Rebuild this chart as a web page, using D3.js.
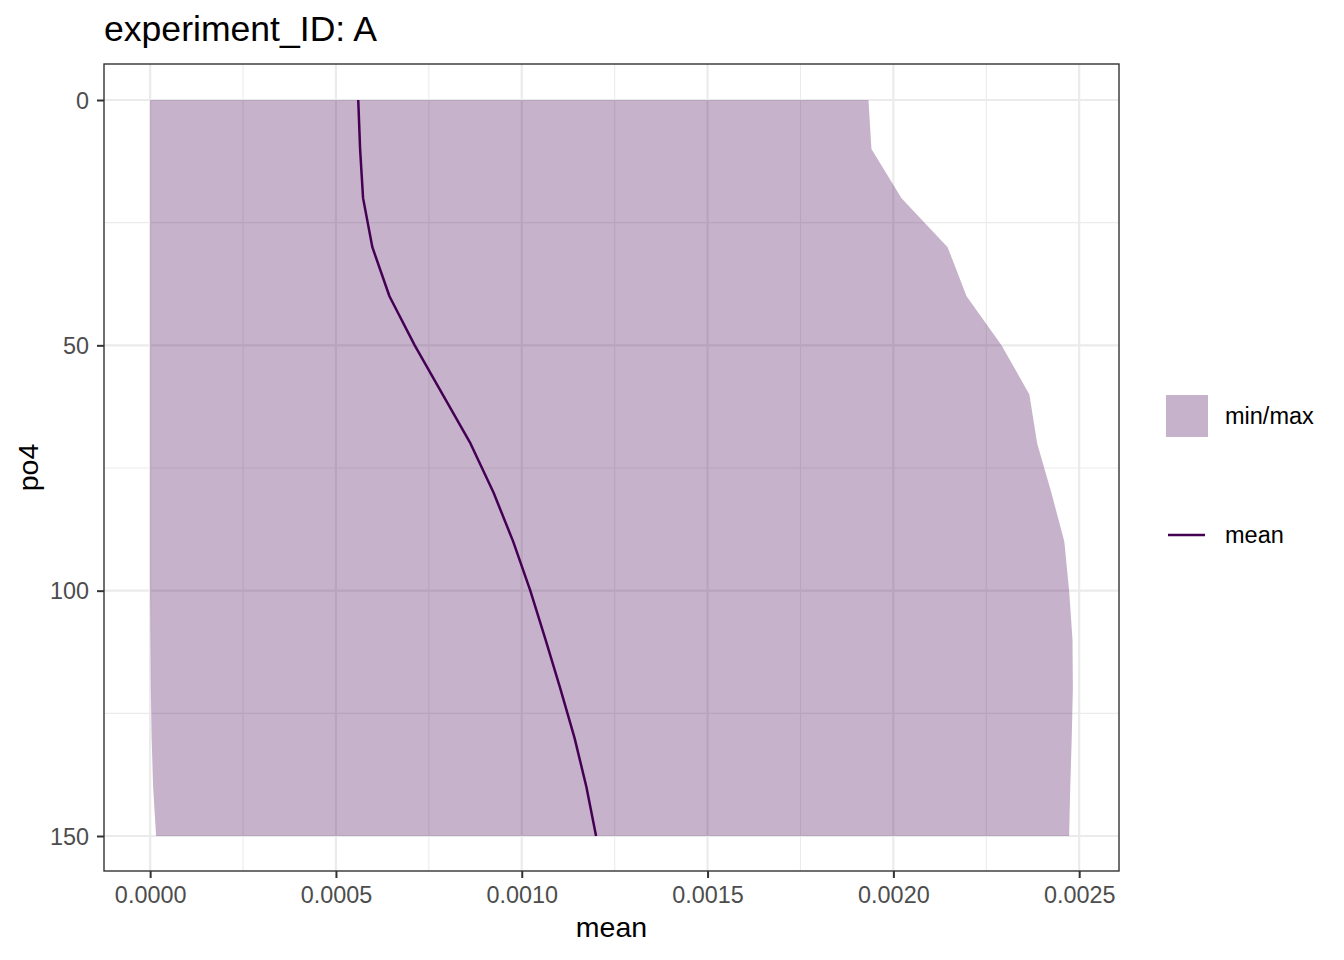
<!DOCTYPE html>
<html>
<head>
<meta charset="utf-8">
<script src="https://cdn.jsdelivr.net/npm/d3@7"></script>
<style>
  html, body { margin: 0; padding: 0; background: #fff; }
  svg text { font-family: "Liberation Sans", Arial, sans-serif; }
</style>
</head>
<body>
<svg id="chart" width="1344" height="960"></svg>
<script>
// ---- data ----
const po4 = [0, 10, 20, 30, 40, 50, 60, 70, 80, 90, 100, 110, 120, 130, 140, 150];
const meanVals = [0.000560, 0.000565, 0.000573, 0.000598, 0.000644, 0.000712, 0.000787, 0.000862,
                  0.000924, 0.000977, 0.001023, 0.001064, 0.001104, 0.001142, 0.001174, 0.001200];
const minVals = [0, 0, 0, 0, 0, 0, 0, 0, 0, 0, 0, 0.000001, 0.000002, 0.000004, 0.000008, 0.000016];
const maxVals = [0.001933, 0.001941, 0.002022, 0.002146, 0.002197, 0.002291, 0.002366, 0.002387,
                 0.002425, 0.002460, 0.002473, 0.002482, 0.002483, 0.002480, 0.002476, 0.002473];
const xTicks = [0, 0.0005, 0.0010, 0.0015, 0.0020, 0.0025];
const xTickLabels = ["0.0000", "0.0005", "0.0010", "0.0015", "0.0020", "0.0025"];
const xMinor = [0.00025, 0.00075, 0.00125, 0.00175, 0.00225];
const yTicks = [0, 50, 100, 150];
const yMinor = [25, 75, 125];
const titleText = "experiment_ID: A";
const legendLabels = ["min/max", "mean"];

const rows = po4.map((d, i) => ({ po4: d, mean: meanVals[i], min: minVals[i], max: maxVals[i] }));

// ---- layout ----
const P = { left: 104, right: 1119, top: 64, bottom: 871 };
const lineColor = "#440154";

const xMaxData = d3.max(maxVals), xMinData = d3.min(minVals);
const xPad = (xMaxData - xMinData) * 0.05;
const x = d3.scaleLinear().domain([xMinData - xPad, xMaxData + xPad]).range([P.left, P.right]);
const yPad = (d3.max(po4) - d3.min(po4)) * 0.05;
const y = d3.scaleLinear().domain([d3.min(po4) - yPad, d3.max(po4) + yPad]).range([63.2, 872.8]);

const svg = d3.select("#chart");

svg.append("rect").attr("x", P.left).attr("y", P.top)
  .attr("width", P.right - P.left).attr("height", P.bottom - P.top).attr("fill", "#fff");

const grid = svg.append("g");
grid.selectAll(".xm").data(xMinor).enter().append("line")
  .attr("x1", d => x(d)).attr("x2", d => x(d)).attr("y1", P.top).attr("y2", P.bottom)
  .attr("stroke", "#EBEBEB").attr("stroke-width", 1.1);
grid.selectAll(".ym").data(yMinor).enter().append("line")
  .attr("y1", d => y(d)).attr("y2", d => y(d)).attr("x1", P.left).attr("x2", P.right)
  .attr("stroke", "#EBEBEB").attr("stroke-width", 1.1);
grid.selectAll(".xM").data(xTicks).enter().append("line")
  .attr("x1", d => x(d)).attr("x2", d => x(d)).attr("y1", P.top).attr("y2", P.bottom)
  .attr("stroke", "#EBEBEB").attr("stroke-width", 2.2);
grid.selectAll(".yM").data(yTicks).enter().append("line")
  .attr("y1", d => y(d)).attr("y2", d => y(d)).attr("x1", P.left).attr("x2", P.right)
  .attr("stroke", "#EBEBEB").attr("stroke-width", 2.2);

// ribbon (min/max)
const area = d3.area()
  .y(d => y(d.po4))
  .x0(d => x(d.min))
  .x1(d => x(d.max));
svg.append("path").datum(rows).attr("d", area)
  .attr("fill", lineColor).attr("fill-opacity", 0.3).attr("stroke", "none");

// mean line
const line = d3.line().x(d => x(d.mean)).y(d => y(d.po4));
svg.append("path").datum(rows).attr("d", line)
  .attr("fill", "none").attr("stroke", lineColor).attr("stroke-width", 2.5)
  .attr("stroke-linejoin", "round");

// panel border
svg.append("rect").attr("x", P.left).attr("y", P.top)
  .attr("width", P.right - P.left).attr("height", P.bottom - P.top)
  .attr("fill", "none").attr("stroke", "#333333").attr("stroke-width", 1.4);

// axes
const xAxis = d3.axisBottom(x).tickValues(xTicks).tickFormat((d, i) => xTickLabels[i])
  .tickSizeInner(7).tickSizeOuter(0).tickPadding(6);
const gx = svg.append("g").attr("transform", `translate(0,${P.bottom})`).call(xAxis);
gx.select(".domain").remove();
gx.selectAll(".tick line").attr("stroke", "#333333").attr("stroke-width", 2);
gx.selectAll(".tick text").attr("fill", "#4D4D4D").style("font-size", "23.4px")
  .attr("dy", null).attr("y", 32);

const yAxis = d3.axisLeft(y).tickValues(yTicks).tickFormat(d3.format("d"))
  .tickSizeInner(7).tickSizeOuter(0).tickPadding(6);
const gy = svg.append("g").attr("transform", `translate(${P.left},0)`).call(yAxis);
gy.select(".domain").remove();
gy.selectAll(".tick line").attr("stroke", "#333333").attr("stroke-width", 2);
gy.selectAll(".tick text").attr("fill", "#4D4D4D").style("font-size", "23.4px")
  .attr("x", -15).attr("dy", "0.35em");

// axis titles
svg.append("text").attr("x", (P.left + P.right) / 2).attr("y", 937)
  .attr("text-anchor", "middle").style("font-size", "28.5px").attr("fill", "#000").text("mean");
svg.append("text").attr("transform", `translate(38,${(P.top + P.bottom) / 2}) rotate(-90)`)
  .attr("text-anchor", "middle").style("font-size", "28.5px").attr("fill", "#000").text("po4");

// title
svg.append("text").attr("x", 104).attr("y", 41)
  .style("font-size", "35.6px").attr("fill", "#000").text(titleText);

// legend
const lg = svg.append("g");
lg.append("rect").attr("x", 1166).attr("y", 395).attr("width", 42).attr("height", 42)
  .attr("fill", lineColor).attr("fill-opacity", 0.3);
lg.append("text").attr("x", 1225).attr("y", 424).style("font-size", "23.5px").attr("fill", "#000")
  .text(legendLabels[0]);
lg.append("line").attr("x1", 1168).attr("x2", 1205).attr("y1", 535).attr("y2", 535)
  .attr("stroke", lineColor).attr("stroke-width", 2.5);
lg.append("text").attr("x", 1225).attr("y", 543).style("font-size", "23.5px").attr("fill", "#000")
  .text(legendLabels[1]);
</script>
</body>
</html>
